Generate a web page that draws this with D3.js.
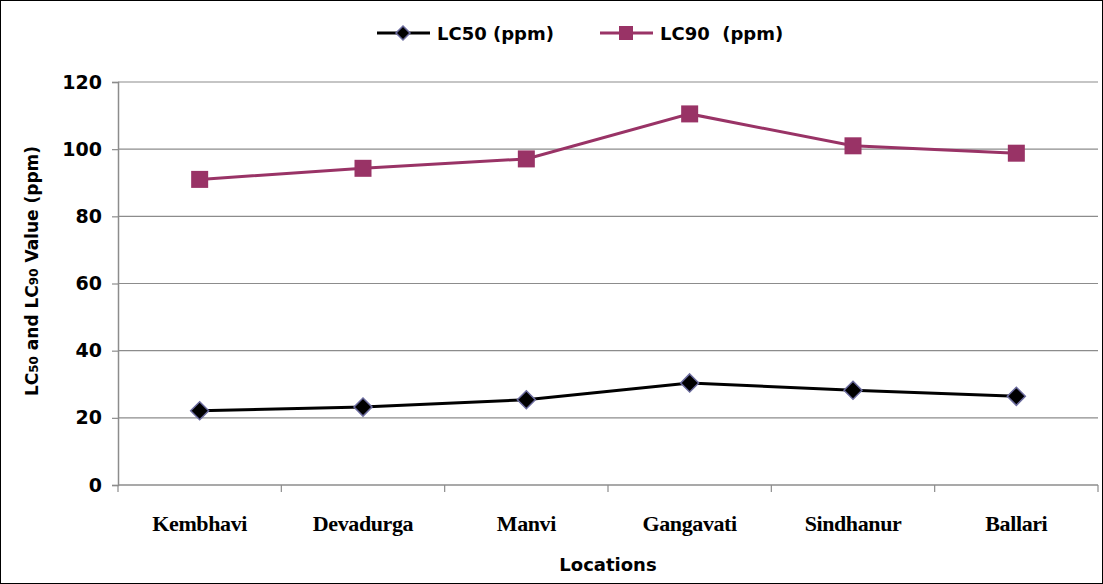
<!DOCTYPE html>
<html>
<head>
<meta charset="utf-8">
<script src="https://cdn.jsdelivr.net/npm/d3@7"></script>
<style>
  body { margin: 0; background: #fff; }
  svg { display: block; }
</style>
</head>
<body>
<div id="chart"></div>
<script>
// data
const locations = ["Kembhavi", "Devadurga", "Manvi", "Gangavati", "Sindhanur", "Ballari"];
const lc50 = [22.1, 23.2, 25.4, 30.4, 28.2, 26.4];
const lc90 = [91.0, 94.3, 97.1, 110.5, 101.0, 98.8];
const yTicks = [0, 20, 40, 60, 80, 100, 120];

const W = 1103, H = 584;
const margin = {top: 82, right: 5, bottom: 99, left: 118};
const width = W - margin.left - margin.right,
      height = H - margin.top - margin.bottom;

const svg = d3.select("#chart")
  .append("svg")
  .attr("width", W)
  .attr("height", H);

// outer frame
svg.append("rect")
  .attr("x", 0.5).attr("y", 0.5)
  .attr("width", W - 1).attr("height", H - 1)
  .attr("fill", "#fff")
  .attr("stroke", "#000")
  .attr("stroke-width", 1);

const g = svg.append("g")
  .attr("transform", `translate(${margin.left}, ${margin.top})`);

const x = d3.scaleBand()
  .domain(locations)
  .range([0, width]);

const y = d3.scaleLinear()
  .domain([0, 120])
  .range([height, 0]);

const labelFont = "'DejaVu Sans', sans-serif";

// gridlines
g.append("g")
  .selectAll("line")
  .data(yTicks.filter(d => d > 0))
  .join("line")
    .attr("x1", 0)
    .attr("x2", width)
    .attr("y1", d => y(d))
    .attr("y2", d => y(d))
    .attr("stroke", "#8c8c8c")
    .attr("stroke-width", 1.2);

// y axis
const yAxis = g.append("g")
  .call(d3.axisLeft(y).tickValues(yTicks).tickSize(6).tickPadding(10));
yAxis.select(".domain").attr("stroke", "#8c8c8c").attr("stroke-width", 1.5);
yAxis.selectAll(".tick line").attr("stroke", "#8c8c8c").attr("stroke-width", 1.2);
yAxis.selectAll(".tick text")
  .style("font-family", labelFont)
  .style("font-weight", "bold")
  .style("font-size", "19px")
  .attr("fill", "#000");

// x axis: ticks on category boundaries
const xAxisG = g.append("g")
  .attr("transform", `translate(0, ${height})`);
xAxisG.append("line")
  .attr("x1", 0).attr("x2", width)
  .attr("stroke", "#8c8c8c")
  .attr("stroke-width", 1.5);
const bounds = locations.map(d => x(d)).concat([width]);
xAxisG.selectAll(".btick")
  .data(bounds)
  .join("line")
    .attr("class", "btick")
    .attr("x1", d => d).attr("x2", d => d)
    .attr("y1", 0).attr("y2", 7)
    .attr("stroke", "#8c8c8c")
    .attr("stroke-width", 1.2);
xAxisG.selectAll(".cat")
  .data(locations)
  .join("text")
    .attr("class", "cat")
    .attr("x", d => x(d) + x.bandwidth() / 2)
    .attr("y", 46)
    .attr("text-anchor", "middle")
    .style("font-family", "'Liberation Serif', 'Times New Roman', serif")
    .style("font-weight", "bold")
    .style("font-size", "22px")
    .style("letter-spacing", "-0.4px")
    .text(d => d);

// lines
const line = d3.line()
  .x((d, i) => x(locations[i]) + x.bandwidth() / 2)
  .y(d => y(d));

g.append("path")
  .datum(lc90)
  .attr("fill", "none")
  .attr("stroke", "#993366")
  .attr("stroke-width", 3)
  .attr("d", line);

g.append("path")
  .datum(lc50)
  .attr("fill", "none")
  .attr("stroke", "#000")
  .attr("stroke-width", 3)
  .attr("d", line);

// markers
const sq = 17, dm = 9;
g.selectAll(".sq")
  .data(lc90)
  .join("rect")
    .attr("class", "sq")
    .attr("x", (d, i) => x(locations[i]) + x.bandwidth() / 2 - sq / 2)
    .attr("y", d => y(d) - sq / 2)
    .attr("width", sq)
    .attr("height", sq)
    .attr("fill", "#993366");

const diamond = s => `M0,${-s}L${s},0L0,${s}L${-s},0Z`;
g.selectAll(".dm")
  .data(lc50)
  .join("path")
    .attr("class", "dm")
    .attr("transform", (d, i) => `translate(${x(locations[i]) + x.bandwidth() / 2}, ${y(d)})`)
    .attr("d", diamond(dm))
    .attr("fill", "#000")
    .attr("stroke", "#6b6b9e")
    .attr("stroke-width", 1.5);

// legend
const legend = svg.append("g").attr("transform", "translate(0, 33)");
legend.append("line")
  .attr("x1", 377).attr("x2", 430)
  .attr("stroke", "#000").attr("stroke-width", 3);
legend.append("path")
  .attr("transform", "translate(403, 0)")
  .attr("d", diamond(7))
  .attr("fill", "#000")
  .attr("stroke", "#6b6b9e")
  .attr("stroke-width", 1.5);
legend.append("text")
  .attr("x", 437).attr("y", 7)
  .style("font-family", labelFont)
  .style("font-weight", "bold")
  .style("font-size", "18px")
  .text("LC50 (ppm)");

legend.append("line")
  .attr("x1", 600).attr("x2", 653)
  .attr("stroke", "#993366").attr("stroke-width", 3);
legend.append("rect")
  .attr("x", 619).attr("y", -7)
  .attr("width", 14).attr("height", 14)
  .attr("fill", "#993366");
legend.append("text")
  .attr("x", 660).attr("y", 7)
  .style("font-family", labelFont)
  .style("font-weight", "bold")
  .style("font-size", "18px")
  .style("white-space", "pre")
  .text("LC90  (ppm)");

// axis titles
svg.append("text")
  .attr("x", 608).attr("y", 571)
  .attr("text-anchor", "middle")
  .style("font-family", labelFont)
  .style("font-weight", "bold")
  .style("font-size", "18px")
  .text("Locations");

const yt = svg.append("text")
  .attr("transform", "translate(38, 271) rotate(-90)")
  .attr("text-anchor", "middle")
  .style("font-family", labelFont)
  .style("font-weight", "bold")
  .style("font-size", "17px");
yt.append("tspan").text("LC");
yt.append("tspan").style("font-size", "12px").text("50");
yt.append("tspan").text(" and LC");
yt.append("tspan").style("font-size", "12px").text("90");
yt.append("tspan").text(" Value (ppm)");
</script>
</body>
</html>
